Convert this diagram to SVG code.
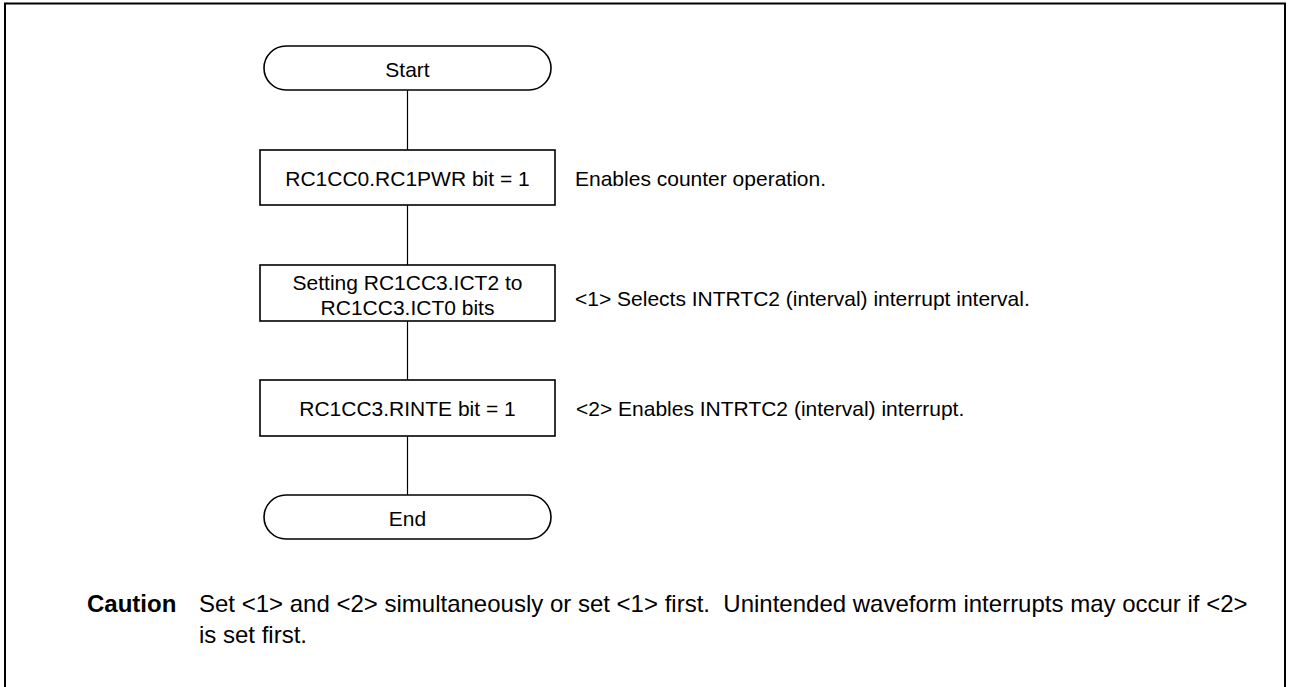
<svg xmlns="http://www.w3.org/2000/svg" width="1290" height="687" viewBox="0 0 1290 687">
<style>
.box{fill:#fff;stroke:#000;stroke-width:1.6}
.term{fill:#fff;stroke:#000;stroke-width:1.6}
.conn{stroke:#000;stroke-width:1.2;fill:none}
.t{font-family:"Liberation Sans",Arial,sans-serif;font-size:21px;fill:#000}
.c{font-family:"Liberation Sans",Arial,sans-serif;font-size:24px;fill:#000}
.m{text-anchor:middle}
</style>
<rect x="0" y="0" width="1290" height="687" fill="#fff"/>
<rect x="5" y="3.5" width="1280" height="720" fill="none" stroke="#000" stroke-width="2"/>
<g id="connectors">
<line class="conn" x1="407.5" y1="90" x2="407.5" y2="150"/>
<line class="conn" x1="407.5" y1="205" x2="407.5" y2="265"/>
<line class="conn" x1="407.5" y1="321" x2="407.5" y2="380"/>
<line class="conn" x1="407.5" y1="436" x2="407.5" y2="495"/>
</g>
<g id="start">
<rect class="term" x="264" y="46" width="287" height="44" rx="22" ry="22"/>
<text class="t m" x="407.5" y="76.5">Start</text>
</g>
<g id="step1">
<rect class="box" x="260" y="150" width="295" height="55"/>
<text class="t m" x="407.5" y="186">RC1CC0.RC1PWR bit = 1</text>
</g>
<g id="note1">
<text class="t" x="575" y="186">Enables counter operation.</text>
</g>
<g id="step2">
<rect class="box" x="260" y="265" width="295" height="56"/>
<text class="t m" x="407.5" y="290">Setting RC1CC3.ICT2 to</text>
<text class="t m" x="407.5" y="315">RC1CC3.ICT0 bits</text>
</g>
<g id="note2">
<text class="t" x="575" y="306">&lt;1&gt; Selects INTRTC2 (interval) interrupt interval.</text>
</g>
<g id="step3">
<rect class="box" x="260" y="380" width="295" height="56"/>
<text class="t m" x="407.5" y="415.5">RC1CC3.RINTE bit = 1</text>
</g>
<g id="note3">
<text class="t" x="576" y="416">&lt;2&gt; Enables INTRTC2 (interval) interrupt.</text>
</g>
<g id="end">
<rect class="term" x="264" y="495" width="287" height="44" rx="22" ry="22"/>
<text class="t m" x="407.5" y="526">End</text>
</g>
<g id="caution">
<text class="c" x="87" y="612" font-weight="bold">Caution</text>
<text class="c" x="199" y="612" xml:space="preserve">Set &lt;1&gt; and &lt;2&gt; simultaneously or set &lt;1&gt; first.  Unintended waveform interrupts may occur if &lt;2&gt;</text>
<text class="c" x="199" y="643">is set first.</text>
</g>
</svg>
